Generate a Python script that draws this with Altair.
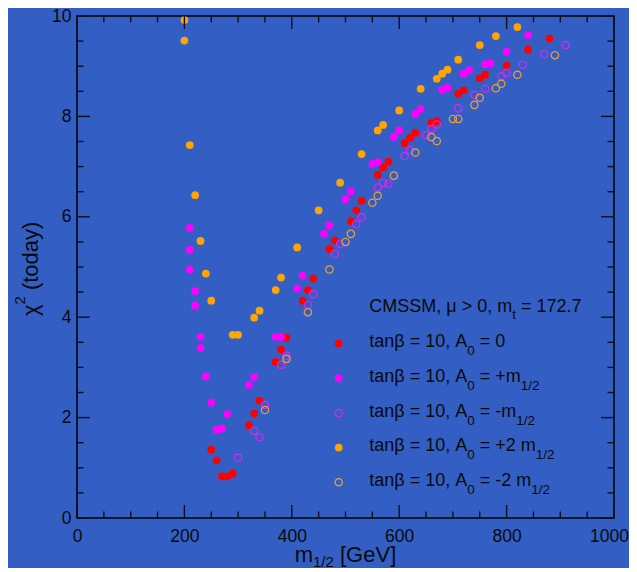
import altair as alt
import pandas as pd

# ---------------- data ----------------
red_x = [250, 260, 270, 280, 290, 320, 330, 340, 370, 380, 390, 420, 430, 440, 470, 480,
         510, 520, 530, 560, 570, 580, 610, 620, 630, 660, 670, 710, 720, 750, 760, 800, 840, 880]
red_y = [1.36, 1.15, 0.83, 0.83, 0.89, 1.85, 2.08, 2.34, 3.11, 3.36, 3.59, 4.33, 4.54, 4.77, 5.36, 5.53,
         5.91, 6.13, 6.32, 6.84, 6.98, 7.10, 7.47, 7.57, 7.67, 7.87, 7.91, 8.45, 8.52, 8.76, 8.83, 9.01, 9.33, 9.55]

mag_x = [210, 210, 210, 220, 220, 230, 230, 240, 250, 260, 270, 280, 320, 330, 370, 380, 410, 420,
         460, 470, 500, 510, 550, 560, 590, 600, 630, 640, 680, 690, 720, 730, 760, 770, 800, 840]
mag_y = [5.78, 5.34, 4.95, 4.52, 4.23, 3.61, 3.39, 2.82, 2.30, 1.76, 1.78, 2.07, 2.65, 2.81, 3.61, 3.61, 4.57, 4.83,
         5.66, 5.83, 6.35, 6.51, 7.05, 7.09, 7.59, 7.72, 8.05, 8.15, 8.53, 8.57, 8.85, 8.92, 9.04, 9.06, 9.29, 9.62]

magh_x = [300, 330, 340, 350, 380, 390, 430, 440, 480, 490, 520, 530, 560, 570, 580, 610, 620, 650,
          660, 670, 710, 740, 760, 790, 800, 830, 870, 910]
magh_y = [1.20, 1.74, 1.61, 2.25, 3.05, 3.23, 4.24, 4.46, 5.26, 5.46, 5.85, 5.99, 6.58, 6.68, 6.66, 7.21, 7.33, 7.63,
          7.75, 7.84, 8.16, 8.43, 8.55, 8.80, 8.87, 9.03, 9.24, 9.42]

org_x = [200, 200, 210, 220, 230, 240, 250, 290, 300, 330, 340, 370, 380, 410, 450, 490, 530, 560,
         570, 600, 640, 670, 680, 690, 710, 750, 780, 820]
org_y = [9.92, 9.51, 7.43, 6.43, 5.52, 4.87, 4.33, 3.65, 3.65, 3.99, 4.13, 4.54, 4.79, 5.39, 6.13, 6.68, 7.25, 7.72,
         7.83, 8.12, 8.55, 8.75, 8.85, 8.93, 9.13, 9.42, 9.60, 9.78]

orgh_x = [350, 390, 430, 470, 500, 510, 550, 560, 590, 630, 660, 670, 700, 710, 740, 750, 780, 790, 820, 890]
orgh_y = [2.15, 3.17, 4.10, 4.95, 5.50, 5.66, 6.28, 6.42, 6.82, 7.28, 7.59, 7.51, 7.95, 7.95, 8.23, 8.37, 8.56, 8.65, 8.83, 9.22]

series_names = ["A0=0", "A0=+m", "A0=-m", "A0=+2m", "A0=-2m"]
series_colors = ["#ff0000", "#ff00ff", "#d528f0", "#ffa500", "#f0a030"]
series_filled = [True, True, False, True, False]

x_major = [0, 200, 400, 600, 800, 1000]
x_minor = [v for v in range(50, 1000, 50) if v % 200 != 0]
y_major = [0, 2, 4, 6, 8, 10]
y_minor = [v / 2 for v in range(1, 20) if v % 4 != 0]

legend_title = [("CMSSM, μ > 0, m", "main"), ("t", "sub"), (" = 172.7", "main")]
legend_rows = [
    [("tanβ = 10, A", "main"), ("0", "sub"), (" = 0", "main")],
    [("tanβ = 10, A", "main"), ("0", "sub"), (" = +m", "main"), ("1/2", "sub")],
    [("tanβ = 10, A", "main"), ("0", "sub"), (" = -m", "main"), ("1/2", "sub")],
    [("tanβ = 10, A", "main"), ("0", "sub"), (" = +2 m", "main"), ("1/2", "sub")],
    [("tanβ = 10, A", "main"), ("0", "sub"), (" = -2 m", "main"), ("1/2", "sub")],
]
x_title = [("m", "main"), ("1/2", "sub"), (" [GeV]", "main")]
y_title = [("χ", "main"), ("2", "sup"), (" (today)", "main")]

# ---------------- layout ----------------
W, H = 537, 502
PX0, PY0 = 77, 16          # page position of plot area
BG = "#335fc5"
TXT = "#0a0a0a"
TICK = "#101018"
FONT = "Liberation Sans"

ADV = {' ': 278, 'a': 556, 'n': 556, 't': 278, 'β': 575, '=': 584, '1': 556, '0': 556, '2': 556,
       '7': 556, '.': 278, ',': 278, 'A': 667, 'm': 833, '+': 584, '-': 333, '/': 278, 'C': 722,
       'M': 833, 'S': 667, 'μ': 576, '>': 584, '[': 278, ']': 278, 'G': 778, 'e': 556, 'V': 667,
       '(': 333, ')': 333, 'o': 556, 'd': 556, 'y': 500, 'χ': 520}


def adv(s, size):
    return sum(ADV.get(c, 556) for c in s) * size / 1000.0


def to_dx(px):
    return (px - PX0) * 1000.0 / W


def to_dy(py):
    return (PY0 + H - py) * 10.0 / H


def build(parts, x0, y0, main, sub, shift, rotated=False):
    rows = []
    pos = y0 if rotated else x0
    for text, kind in parts:
        size = main if kind == "main" else sub
        core = text.strip(" ")
        lead = len(text) - len(text.lstrip(" "))
        trail = len(text) - len(text.rstrip(" "))
        step = adv(" " * lead, size)
        pos = pos - step if rotated else pos + step
        off = 0 if kind == "main" else (shift if kind == "sub" else -shift)
        if rotated:
            rows.append({"tx": to_dx(x0 + off), "ty": to_dy(pos), "txt": core, "fs": size})
            pos -= adv(core, size) + adv(" " * trail, size)
        else:
            rows.append({"tx": to_dx(pos), "ty": to_dy(y0 + off), "txt": core, "fs": size})
            pos += adv(core, size) + adv(" " * trail, size)
    return rows


LEG_X_TEXT, LEG_X_MARK = 369.3, 338.7
LEG_BASE = [312.0, 347.0, 381.7, 416.5, 451.0, 485.7]

text_rows = build(legend_title, LEG_X_TEXT, LEG_BASE[0], 18, 13.5, 7)
for row, base_y in zip(legend_rows, LEG_BASE[1:]):
    text_rows += build(row, LEG_X_TEXT, base_y, 18, 13.5, 8)
text_rows += build(x_title, 294.7, 562, 22, 15, 5)
text_df = pd.DataFrame(text_rows)
ytitle_df = pd.DataFrame(build(y_title, 38, 316, 22, 15, 13, rotated=True))

# points
frames = []
for name, xs_, ys_ in zip(series_names, [red_x, mag_x, magh_x, org_x, orgh_x],
                          [red_y, mag_y, magh_y, org_y, orgh_y]):
    frames.append(pd.DataFrame({"m": xs_, "chi": ys_, "series": name}))
pts = pd.concat(frames, ignore_index=True)

leg_pts = pd.DataFrame({
    "m": [to_dx(LEG_X_MARK)] * 5,
    "chi": [to_dy(b - 3.5) for b in LEG_BASE[1:]],
    "series": series_names,
})
allpts = pd.concat([pts, leg_pts], ignore_index=True)
filled_names = [n for n, f in zip(series_names, series_filled) if f]
hollow_names = [n for n, f in zip(series_names, series_filled) if not f]

xs = alt.Scale(domain=[0, 1000], nice=False, zero=False)
ys = alt.Scale(domain=[0, 10], nice=False, zero=False)
cs = alt.Scale(domain=series_names, range=series_colors)

x_axis = alt.Axis(values=x_major, title="", domain=False, ticks=False, grid=False,
                  labelFont=FONT, labelFontSize=17.5, labelColor=TXT, labelPadding=9,
                  labelFlush=False, labelOverlap=False, format="d",
                  labelOffset={"condition": {"test": "datum.value == 1000", "value": -5}, "value": 0})
y_axis = alt.Axis(values=y_major, title="", domain=False, ticks=False, grid=False,
                  labelFont=FONT, labelFontSize=17.5, labelColor=TXT, labelPadding=6,
                  labelFlush=False, labelOverlap=False, format="d")


def X(field):
    return alt.X(field, type="quantitative", scale=xs, axis=x_axis)


def Y(field):
    return alt.Y(field, type="quantitative", scale=ys, axis=y_axis)


base = alt.Chart(allpts)
filled_layer = base.transform_filter(
    alt.FieldOneOfPredicate(field="series", oneOf=filled_names)
).mark_circle(size=60, opacity=1).encode(
    x=X("m"), y=Y("chi"),
    color=alt.Color("series:N", scale=cs, legend=None),
)
hollow_layer = base.transform_filter(
    alt.FieldOneOfPredicate(field="series", oneOf=hollow_names)
).mark_point(size=54, filled=False, strokeWidth=1.2, opacity=1, shape="circle").encode(
    x=X("m"), y=Y("chi"),
    color=alt.Color("series:N", scale=cs, legend=None),
)


def xticks(vals, length, top):
    df = pd.DataFrame({"v": vals})
    y0, y1 = (0, length) if top else (H, H - length)
    return alt.Chart(df).mark_rule(color=TICK, strokeWidth=1.4).encode(
        x=X("v"), y=alt.value(y0), y2=alt.value(y1))


def yticks(vals, length, right):
    df = pd.DataFrame({"v": vals})
    x0, x1 = (W, W - length) if right else (0, length)
    return alt.Chart(df).mark_rule(color=TICK, strokeWidth=1.4).encode(
        y=Y("v"), x=alt.value(x0), x2=alt.value(x1))


tick_layers = [
    xticks(x_major, 13, False), xticks(x_minor, 6.5, False),
    xticks(x_major, 13, True), xticks(x_minor, 6.5, True),
    yticks(y_major, 13, False), yticks(y_minor, 6.5, False),
    yticks(y_major, 13, True), yticks(y_minor, 6.5, True),
]

text_layer = alt.Chart(text_df).mark_text(
    align="left", baseline="alphabetic", font=FONT, color=TXT
).encode(
    x=X("tx"), y=Y("ty"),
    text="txt:N",
    size=alt.Size("fs:Q", scale=None, legend=None),
)
ytitle_layer = alt.Chart(ytitle_df).mark_text(
    align="left", baseline="alphabetic", font=FONT, color=TXT, angle=270
).encode(
    x=X("tx"), y=Y("ty"),
    text="txt:N",
    size=alt.Size("fs:Q", scale=None, legend=None),
)

chart = alt.layer(
    filled_layer, *tick_layers, hollow_layer, text_layer, ytitle_layer
).properties(
    width=W, height=H,
    autosize=alt.AutoSizeParams(type="none"),
    padding={"left": 69, "top": 8, "right": 15, "bottom": 50},
    background=BG,
).configure_view(stroke="#000000", strokeWidth=1.5)

chart.save("out.html", embed_options={"renderer": "svg", "actions": False})
